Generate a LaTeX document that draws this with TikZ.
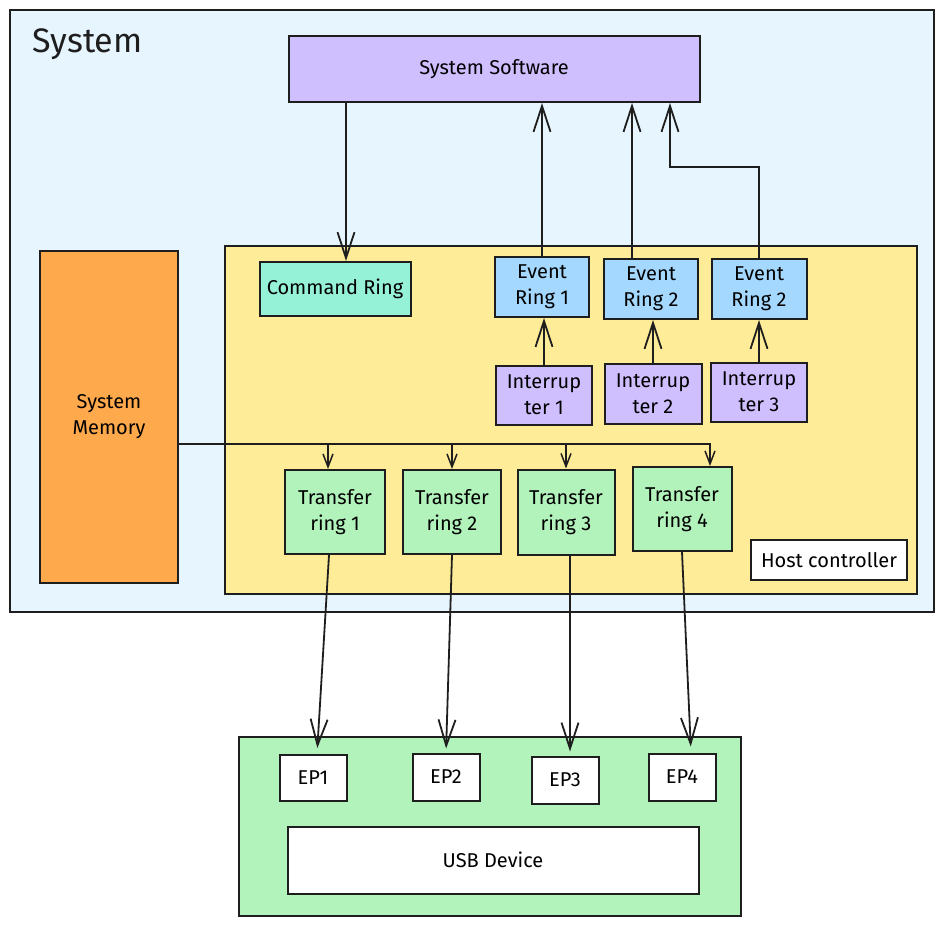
\documentclass[tikz,border=0pt]{standalone}
\usepackage{fontspec}
\setmainfont{Fira Sans}
\usetikzlibrary{calc,arrows.meta}

\definecolor{sysbg}{HTML}{E7F5FF}
\definecolor{violet}{HTML}{D0BFFF}
\definecolor{hostbg}{HTML}{FFEC99}
\definecolor{memorange}{HTML}{FFA94D}
\definecolor{cmdgreen}{HTML}{96F2D7}
\definecolor{eventblue}{HTML}{A5D8FF}
\definecolor{ringgreen}{HTML}{B2F2BB}
\definecolor{ink}{HTML}{1E1E1E}

\begin{document}
\begin{tikzpicture}[x=1pt,y=-1pt,
  box/.style={draw=ink,line width=2pt,align=center,inner sep=1pt,
    font=\fontsize{20}{26}\selectfont},
  link/.style={draw=ink,line width=1.8pt,-{Straight Barb[length=26pt,width=17pt,line width=1.8pt]}},
  tap/.style={draw=ink,line width=1.5pt,-{Straight Barb[length=13pt,width=10pt,line width=1.5pt]}}]
\useasboundingbox (0,0) rectangle (944,926);

\node[box,fill=sysbg,minimum width=924pt,minimum height=602pt] (system) at (472,311) {};
\node[font=\fontsize{34}{36}\selectfont,text=ink,anchor=west] (title) at (29,44) {System};
\node[box,fill=violet,minimum width=411pt,minimum height=66pt] (sw) at (494,69) {System Software};

\node[box,fill=hostbg,minimum width=692pt,minimum height=348pt] (host) at (571,420) {};
\node[box,fill=white,minimum width=156pt,minimum height=40pt] (hostlabel) at (829,560) {Host controller};
\node[box,fill=memorange,minimum width=138pt,minimum height=332pt] (mem) at (109,417) {System\\Memory};

\node[box,fill=cmdgreen,minimum width=151pt,minimum height=54pt] (cmdring) at (335,289) {Command Ring};

\node[box,fill=eventblue,minimum width=94pt,minimum height=60pt] (er1) at (542,287) {Event\\Ring 1};
\node[box,fill=eventblue,minimum width=94pt,minimum height=60pt] (er2) at (651,289) {Event\\Ring 2};
\node[box,fill=eventblue,minimum width=95pt,minimum height=60pt] (er3) at (759,289) {Event\\Ring 2};

\node[box,fill=violet,minimum width=96pt,minimum height=59pt] (ir1) at (544,395) {Interrup\\ter 1};
\node[box,fill=violet,minimum width=97pt,minimum height=60pt] (ir2) at (653,394) {Interrup\\ter 2};
\node[box,fill=violet,minimum width=96pt,minimum height=59pt] (ir3) at (759,392) {Interrup\\ter 3};

\node[box,fill=ringgreen,minimum width=100pt,minimum height=84pt] (tr1) at (335,512) {Transfer\\ring 1};
\node[box,fill=ringgreen,minimum width=98pt,minimum height=84pt] (tr2) at (452,512) {Transfer\\ring 2};
\node[box,fill=ringgreen,minimum width=97pt,minimum height=85pt] (tr3) at (566,512) {Transfer\\ring 3};
\node[box,fill=ringgreen,minimum width=99pt,minimum height=84pt] (tr4) at (682,509) {Transfer\\ring 4};

\node[box,fill=ringgreen,minimum width=502pt,minimum height=179pt] (usb) at (490,826) {};
\node[box,fill=white,minimum width=67pt,minimum height=46pt] (ep1) at (313,778) {EP1};
\node[box,fill=white,minimum width=67pt,minimum height=47pt] (ep2) at (446,777) {EP2};
\node[box,fill=white,minimum width=67pt,minimum height=47pt] (ep3) at (565,780) {EP3};
\node[box,fill=white,minimum width=67pt,minimum height=47pt] (ep4) at (682,777) {EP4};
\node[box,fill=white,minimum width=411pt,minimum height=67pt] (usbdev) at (493,860) {USB Device};

\draw[link] ([xshift=11pt]cmdring.north |- sw.south) -- ([xshift=11pt]cmdring.north);
\draw[link] (er1.north) -- (er1.north |- sw.south);
\draw[link] ([xshift=-19pt]er2.north) -- ([xshift=-19pt]er2.north |- sw.south);
\draw[link] (er3.north) |- ($(sw.south)+(176,64)$) -- ($(sw.south)+(176,0)$);

\draw[link] (ir1.north) -- (ir1.north |- er1.south);
\draw[link] (ir2.north) -- (ir2.north |- er2.south);
\draw[link] (ir3.north) -- (ir3.north |- er3.south);

\coordinate (bus) at ([yshift=-27pt]mem.east);
\draw[tap] (bus) -| ([xshift=28pt]tr4.north);
\draw[tap] ([xshift=-7pt]tr1.north |- bus) -- ([xshift=-7pt]tr1.north);
\draw[tap] (tr2.north |- bus) -- (tr2.north);
\draw[tap] (tr3.north |- bus) -- (tr3.north);

\draw[link,shorten >=6pt] ([xshift=-6pt]tr1.south) -- ([xshift=4pt]ep1.north);
\draw[link,shorten >=4pt] (tr2.south) -- (ep2.north);
\draw[link,shorten >=4pt] ([xshift=4pt]tr3.south) -- ([xshift=5pt]ep3.north);
\draw[link,shorten >=6pt] (tr4.south) -- ([xshift=9pt]ep4.north);
\end{tikzpicture}
\end{document}
